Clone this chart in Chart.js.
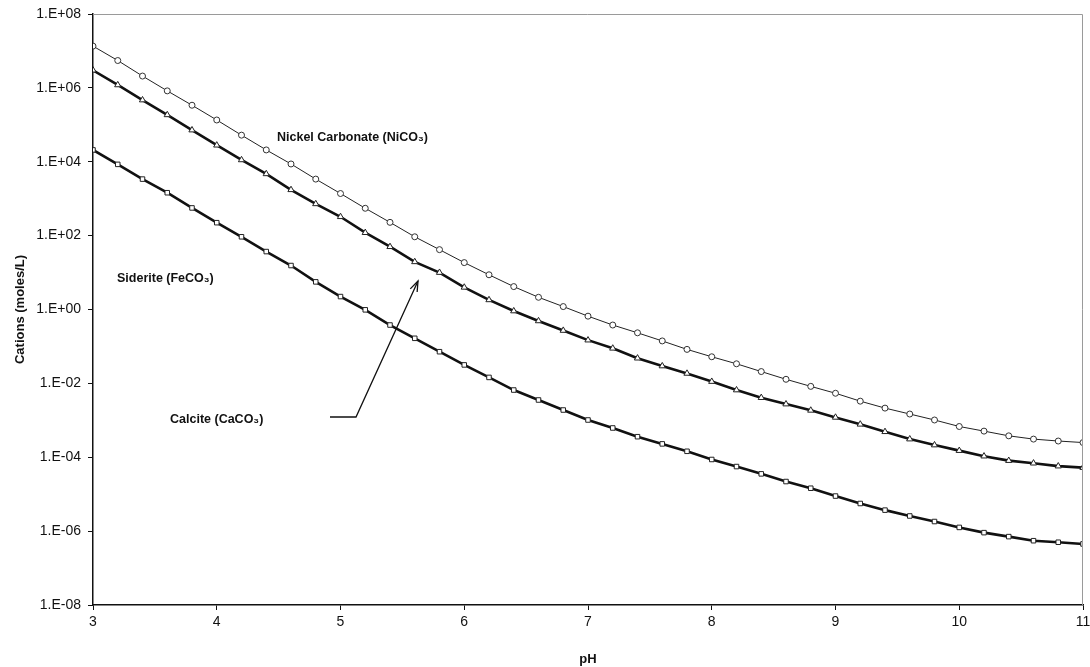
<!DOCTYPE html>
<html>
<head>
<meta charset="utf-8">
<script src="https://cdn.jsdelivr.net/npm/chart.js@4/dist/chart.umd.min.js"></script>
<style>
  html, body { margin: 0; padding: 0; background: #fff; }
  #wrap { width: 1090px; height: 667px; }
</style>
</head>
<body>
<div id="wrap"><canvas id="cationChart" width="1090" height="667"></canvas></div>
<script>
// pH values (x)
const phValues = [3.0, 3.2, 3.4, 3.6, 3.8, 4.0, 4.2, 4.4, 4.6, 4.8,
                  5.0, 5.2, 5.4, 5.6, 5.8, 6.0, 6.2, 6.4, 6.6, 6.8,
                  7.0, 7.2, 7.4, 7.6, 7.8, 8.0, 8.2, 8.4, 8.6, 8.8,
                  9.0, 9.2, 9.4, 9.6, 9.8, 10.0, 10.2, 10.4, 10.6, 10.8, 11.0];

// Cations (moles/L)
const nickelCarbonate = [1.35e7, 5.5e6, 2.09e6, 8.3e5, 3.39e5, 1.35e5, 5.25e4, 2.09e4, 8.7e3, 3.39e3,
                         1.38e3, 550, 229, 93, 41.7, 18.6, 8.7, 4.17, 2.14, 1.20,
                         0.66, 0.38, 0.234, 0.141, 0.0832, 0.0525, 0.0339, 0.0209, 0.0129, 8.3e-3,
                         5.4e-3, 3.3e-3, 2.14e-3, 1.48e-3, 1.02e-3, 6.8e-4, 5.1e-4, 3.8e-4, 3.1e-4, 2.75e-4, 2.5e-4];

const siderite = [3.0e6, 1.2e6, 4.68e5, 1.86e5, 7.2e4, 2.8e4, 1.12e4, 4.7e3, 1.74e3, 724,
                  324, 120, 50, 19.5, 10, 3.98, 1.82, 0.91, 0.49, 0.27,
                  0.148, 0.089, 0.048, 0.0295, 0.0186, 0.0112, 6.6e-3, 4.1e-3, 2.75e-3, 1.86e-3,
                  1.2e-3, 7.8e-4, 4.9e-4, 3.1e-4, 2.14e-4, 1.51e-4, 1.07e-4, 8.1e-5, 6.9e-5, 5.75e-5, 5.25e-5];

const calcite = [2.09e4, 8.5e3, 3.39e3, 1.45e3, 562, 224, 93, 37, 15.5, 5.6,
                 2.24, 0.98, 0.38, 0.166, 0.072, 0.0316, 0.0145, 6.6e-3, 3.55e-3, 1.9e-3,
                 1.02e-3, 6.2e-4, 3.6e-4, 2.3e-4, 1.45e-4, 8.7e-5, 5.6e-5, 3.55e-5, 2.2e-5, 1.45e-5,
                 8.9e-6, 5.6e-6, 3.7e-6, 2.57e-6, 1.82e-6, 1.26e-6, 9.1e-7, 7.1e-7, 5.5e-7, 5.0e-7, 4.5e-7];

// y tick labels (every second decade)
const yTickValues = [1e-8, 1e-6, 1e-4, 1e-2, 1e0, 1e2, 1e4, 1e6, 1e8];
const yTickLabels = ['1.E-08', '1.E-06', '1.E-04', '1.E-02', '1.E+00', '1.E+02', '1.E+04', '1.E+06', '1.E+08'];

const FONT = '"Liberation Sans", Arial, sans-serif';

function toPoints(values) {
    return phValues.map((x, i) => ({ x: x, y: values[i] }));
}

// labels, arrow and top/right frame
const annotations = {
    id: 'annotations',
    afterDraw(chart) {
        const ctx = chart.ctx;
        const a = chart.chartArea;
        ctx.save();

        ctx.strokeStyle = '#9a9a9a';
        ctx.lineWidth = 1;
        ctx.beginPath();
        ctx.moveTo(a.left, a.top + 0.5);
        ctx.lineTo(a.right - 0.5, a.top + 0.5);
        ctx.lineTo(a.right - 0.5, a.bottom);
        ctx.stroke();

        ctx.fillStyle = '#111';
        ctx.font = 'bold 12.5px ' + FONT;
        ctx.textBaseline = 'middle';
        ctx.fillText('Nickel Carbonate (NiCO₃)', 277, 138);
        ctx.fillText('Siderite (FeCO₃)', 117, 279);
        ctx.fillText('Calcite (CaCO₃)', 170, 420);

        // arrow from Calcite label to the Siderite line
        ctx.strokeStyle = '#111';
        ctx.lineWidth = 1.3;
        ctx.beginPath();
        ctx.moveTo(330, 417);
        ctx.lineTo(356, 417);
        ctx.lineTo(418, 281);
        ctx.stroke();
        const ang = Math.atan2(281 - 417, 418 - 356);
        ctx.beginPath();
        ctx.moveTo(418 - 11 * Math.cos(ang - 0.35), 281 - 11 * Math.sin(ang - 0.35));
        ctx.lineTo(418, 281);
        ctx.lineTo(418 - 11 * Math.cos(ang + 0.35), 281 - 11 * Math.sin(ang + 0.35));
        ctx.stroke();

        ctx.restore();
    }
};

const ctx = document.getElementById('cationChart').getContext('2d');
new Chart(ctx, {
    type: 'line',
    data: {
        datasets: [{
            label: 'Nickel Carbonate (NiCO3)',
            data: toPoints(nickelCarbonate),
            borderColor: '#222',
            borderWidth: 1,
            pointStyle: 'circle',
            pointRadius: 3,
            pointBorderWidth: 1,
            pointBorderColor: '#333',
            pointBackgroundColor: '#fff'
        }, {
            label: 'Siderite (FeCO3)',
            data: toPoints(siderite),
            borderColor: '#111',
            borderWidth: 2.6,
            pointStyle: 'triangle',
            pointRadius: 3.6,
            pointBorderWidth: 1,
            pointBorderColor: '#222',
            pointBackgroundColor: '#fff'
        }, {
            label: 'Calcite (CaCO3)',
            data: toPoints(calcite),
            borderColor: '#111',
            borderWidth: 2.6,
            pointStyle: 'rect',
            pointRadius: 3.2,
            pointBorderWidth: 1,
            pointBorderColor: '#222',
            pointBackgroundColor: '#fff'
        }]
    },
    options: {
        responsive: false,
        animation: false,
        layout: { padding: { top: 14, right: 7, left: 0, bottom: 0 } },
        plugins: {
            legend: { display: false },
            tooltip: { enabled: false }
        },
        scales: {
            x: {
                type: 'linear',
                min: 3,
                max: 11,
                ticks: {
                    stepSize: 1,
                    color: '#111',
                    font: { family: FONT, size: 14 },
                    padding: 4
                },
                grid: { drawOnChartArea: false, drawTicks: true, tickLength: 5, color: '#111' },
                border: { color: '#111', width: 1.5 },
                title: {
                    display: true,
                    text: 'pH',
                    color: '#111',
                    font: { family: FONT, size: 13, weight: 'bold' },
                    padding: { top: 1, bottom: 0 }
                },
                afterFit(scale) {
                    scale.height = 62;
                    scale.paddingRight = 0;
                    scale.paddingLeft = 0;
                }
            },
            y: {
                type: 'logarithmic',
                min: 1e-8,
                max: 1e8,
                afterBuildTicks(scale) {
                    scale.ticks = yTickValues.map(v => ({ value: v }));
                },
                ticks: {
                    color: '#111',
                    font: { family: FONT, size: 14 },
                    padding: 7,
                    callback: (value) => {
                        const i = yTickValues.findIndex(v => Math.abs(Math.log10(v) - Math.log10(value)) < 1e-6);
                        return i >= 0 ? yTickLabels[i] : '';
                    }
                },
                grid: { drawOnChartArea: false, drawTicks: true, tickLength: 5, color: '#111' },
                border: { color: '#111', width: 1.5 },
                title: {
                    display: true,
                    text: 'Cations (moles/L)',
                    color: '#111',
                    font: { family: FONT, size: 13, weight: 'bold' },
                    padding: { top: 13, bottom: 0 }
                },
                afterFit(scale) {
                    scale.width = 93;
                    scale.paddingTop = 0;
                    scale.paddingBottom = 0;
                }
            }
        }
    },
    plugins: [annotations]
});
</script>
</body>
</html>
